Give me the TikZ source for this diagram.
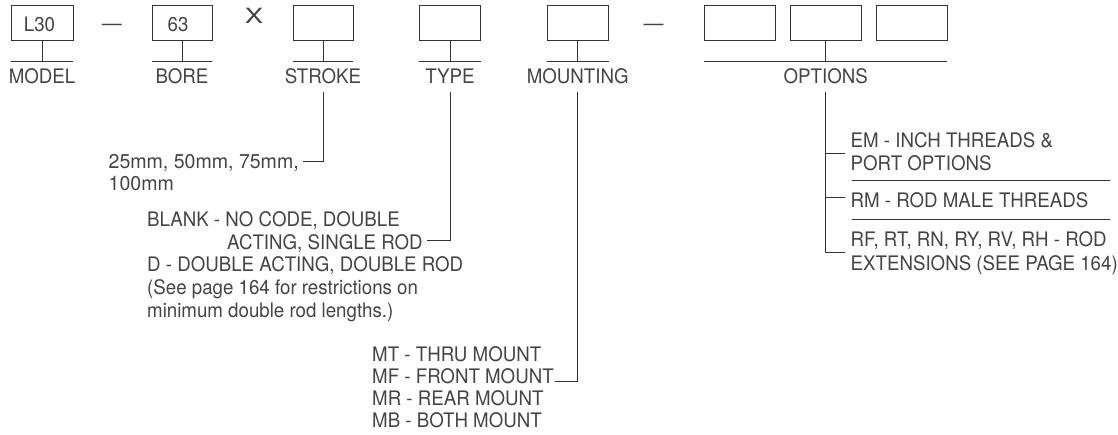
\documentclass[tikz,border=0pt]{standalone}
\usepackage{fontspec}
\usepackage{graphicx}
\setmainfont[FakeStretch=0.935]{TeX Gyre Heros}
\definecolor{ink}{HTML}{333333}
\definecolor{tink}{HTML}{444444}
\begin{document}
\begin{tikzpicture}[x=1pt,y=-1pt,
  line/.style={draw=ink,line width=0.9pt},
  codebox/.style={draw=ink,line width=0.9pt,minimum height=35pt,inner sep=0pt},
  boxtext/.style={anchor=base,inner sep=0pt,text=tink,font=\fontsize{20}{22}\selectfont},
  lbl/.style={anchor=base,inner sep=0pt,text=tink,font=\fontsize{20}{22}\selectfont},
  txt/.style={anchor=base west,inner sep=0pt,text=tink,font=\fontsize{20}{22}\selectfont}]
\useasboundingbox (0,0) rectangle (1118,434);

% code boxes
\node[codebox,minimum width=62pt] (b1) at (42,22.5) {};
\node[codebox,minimum width=60pt] (b2) at (182,22.5) {};
\node[codebox,minimum width=60pt] (b3) at (323,22.5) {};
\node[codebox,minimum width=61pt] (b4) at (450,22.5) {};
\node[codebox,minimum width=61pt] (b5) at (577.7,22.5) {};
\node[codebox,minimum width=71pt] (o1) at (739.5,22.5) {};
\node[codebox,minimum width=71pt] (o2) at (825.7,22.5) {};
\node[codebox,minimum width=71pt] (o3) at (911.5,22.5) {};

\node[boxtext] (t1) at (39.5,31.75) {L30};
\node[boxtext] (t2) at (178,31.75) {63};
\node[lbl] (d1) at (112,30.5) {\scalebox{1.07}[1]{—}};
\node[lbl] (d2) at (653.5,30.5) {\scalebox{1.07}[1]{—}};
\node[lbl,font=\fontsize{21}{22}\selectfont] (xx) at (254,23.3) {\scalebox{1.4}[1]{X}};

% stems and underlines
\foreach \b in {b1,b2,b3,b4,b5}{
  \draw[line] (\b.south) -- (\b.south |- 0,61);
  \draw[line] (\b.south west |- 0,61) -- (\b.south east |- 0,61);
}
\draw[line] (o2.south) -- (o2.south |- 0,61);
\draw[line] (o1.south west |- 0,61) -- (o3.south east |- 0,61);

% labels
\node[lbl] (lmodel) at (42,83.3) {MODEL};
\node[lbl] (lbore) at (182,83.3) {BORE};
\node[lbl] (lstroke) at (323,83.3) {STROKE};
\node[lbl] (ltype) at (450,83.3) {TYPE};
\node[lbl] (lmount) at (577.7,83.3) {MOUNTING};
\node[lbl] (lopt) at (825.7,83.3) {OPTIONS};

% connector tops
\coordinate (cs) at (323,91.7);
\coordinate (ct) at (450,91.7);
\coordinate (cm) at (577.7,91.7);
\coordinate (co) at (825.7,91.7);

% stroke texts
\node[txt] (s1) at (108.5,168.3) {\scalebox{1.045}[1]{25mm, 50mm, 75mm,}};
\node[txt] (s2) at (108.5,190) {\scalebox{1.045}[1]{100mm}};
\coordinate (se) at (302.7,161.7);
\draw[line] (cs) |- (se);

% type texts
\node[txt] (y1) at (147,226.3) {BLANK - NO CODE, DOUBLE};
\node[txt] (y2) at (227,249) {ACTING, SINGLE ROD};
\node[txt] (y3) at (147,271.7) {D - DOUBLE ACTING, DOUBLE ROD};
\node[txt] (y4) at (147,294.4) {(See page 164 for restrictions on};
\node[txt] (y5) at (147,317) {minimum double rod lengths.)};
\coordinate (ye) at (426.7,240);
\draw[line] (ct) |- (ye);

% mounting texts
\node[txt] (m1) at (372,361.7) {MT - THRU MOUNT};
\node[txt] (m2) at (372,383.7) {MF - FRONT MOUNT};
\node[txt] (m3) at (372,405.7) {MR - REAR MOUNT};
\node[txt] (m4) at (372,427.7) {MB - BOTH MOUNT};
\coordinate (me) at (555,381);
\draw[line] (cm) |- (me);

% options texts
\node[txt] (p1) at (850.5,147) {EM - INCH THREADS \&};
\node[txt] (p2) at (850.5,170) {PORT OPTIONS};
\node[txt] (p3) at (850.5,207.3) {RM - ROD MALE THREADS};
\node[txt] (p4) at (850.5,246.7) {RF, RT, RN, RY, RV, RH - ROD};
\node[txt] (p5) at (850.5,270) {EXTENSIONS (SEE PAGE 164)};
\coordinate (oe1) at (845,153.3);
\coordinate (oe2) at (845,197.3);
\coordinate (oe3) at (845,252.7);
\draw[line] (co) |- (oe3);
\draw[line] (co |- oe1) -- (oe1);
\draw[line] (co |- oe2) -- (oe2);
\coordinate (sep1a) at (851.7,180);
\coordinate (sep1b) at (1110,180);
\coordinate (sep2a) at (851.7,219);
\coordinate (sep2b) at (1110,219);
\draw[line] (sep1a) -- (sep1b);
\draw[line] (sep2a) -- (sep2b);
\end{tikzpicture}
\end{document}
